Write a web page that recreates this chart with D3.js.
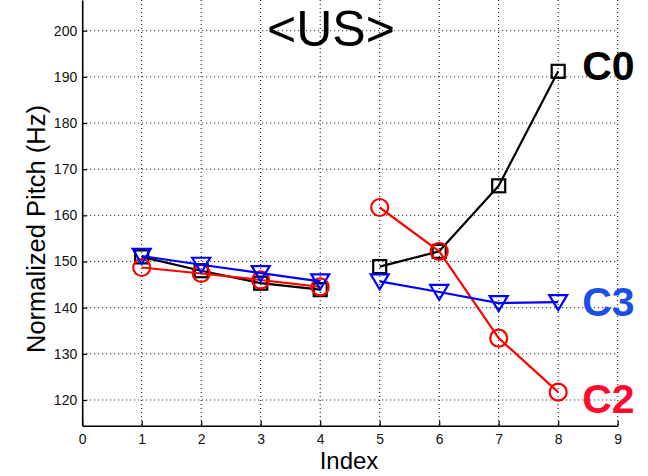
<!DOCTYPE html>
<html>
<head>
<meta charset="utf-8">
<script src="https://cdn.jsdelivr.net/npm/d3@7"></script>
<style>
  html, body { margin: 0; padding: 0; background: #fff; }
  svg { display: block; font-family: "Liberation Sans", Arial, Helvetica, sans-serif; }
</style>
</head>
<body>
<svg id="chart" width="648" height="476"></svg>
<script>
// Index positions along the utterance
const indices = [1, 2, 3, 4, 5, 6, 7, 8];
// Normalized pitch (Hz) per contour class; first four and last four are separate runs
const c0Values = [151.0, 148.0, 145.3, 143.9, 148.9, 152.2, 166.4, 191.2];
const c2Values = [148.7, 147.4, 146.0, 144.5, 161.7, 152.2, 133.4, 121.7];
const c3Values = [151.2, 149.3, 147.5, 145.7, 145.7, 143.4, 141.0, 141.2];
const seriesNames = ["C0", "C2", "C3"];
const xTicks = [0, 1, 2, 3, 4, 5, 6, 7, 8, 9];
const yTicks = [120, 130, 140, 150, 160, 170, 180, 190, 200];
const titleText = "<US>";

const svg = d3.select("#chart");

const x = d3.scaleLinear().domain([0, 9]).range([82.2, 617.7]);
const y = d3.scaleLinear().domain([114.43, 206.65]).range([425.7, 0]);

const gridColor = "#000";

// dotted grid
const grid = svg.append("g");
grid.selectAll("line.vg").data(xTicks.filter(d => d > 0)).join("line")
  .attr("x1", d => x(d)).attr("x2", d => x(d))
  .attr("y1", y.range()[1]).attr("y2", y.range()[0])
  .attr("stroke", gridColor).attr("stroke-width", 1)
  .attr("stroke-dasharray", "1,3");
grid.selectAll("line.hg").data(yTicks).join("line")
  .attr("x1", x(0)).attr("x2", x(9))
  .attr("y1", d => y(d)).attr("y2", d => y(d))
  .attr("stroke", gridColor).attr("stroke-width", 1)
  .attr("stroke-dasharray", "1,3");

// axes with inward ticks
const xAxis = d3.axisBottom(x).tickValues(xTicks).tickSizeInner(-5).tickSizeOuter(0).tickPadding(8);
const yAxis = d3.axisLeft(y).tickValues(yTicks).tickSizeInner(-5).tickSizeOuter(0).tickPadding(5);

const gx = svg.append("g").attr("transform", `translate(0,${y.range()[0]})`).call(xAxis);
const gy = svg.append("g").attr("transform", `translate(${x(0)},0)`).call(yAxis);
[gx, gy].forEach(g => {
  g.select(".domain").attr("stroke", "#000").attr("stroke-width", 1.6);
  g.selectAll(".tick line").attr("stroke", "#000").attr("stroke-width", 1.2);
  g.selectAll(".tick text").attr("fill", "#111").style("font-size", "14px")
    .style("font-family", "'Liberation Sans', Arial, sans-serif");
});

// series
const series = [
  { name: seriesNames[0], values: c0Values, color: "#000000", marker: "square", labelColor: "#000000", dy: -5.6 },
  { name: seriesNames[1], values: c2Values, color: "#ff0000", marker: "circle", labelColor: "#ff0a2e", dy: 5.7 },
  { name: seriesNames[2], values: c3Values, color: "#0000ff", marker: "triangle", labelColor: "#1a4fe6", dy: -0.7 }
];

const line = d3.line()
  .defined(d => d.v != null)
  .x(d => x(d.i)).y(d => y(d.v));

series.forEach(s => {
  const pts = indices.map((i, k) => ({ i, v: s.values[k] }));
  const g = svg.append("g");
  // two separate runs: 1-4 and 5-8
  [pts.slice(0, 4), pts.slice(4)].forEach(run => {
    g.append("path").datum(run)
      .attr("d", line)
      .attr("fill", "none")
      .attr("stroke", s.color)
      .attr("stroke-width", 2.2)
      .attr("stroke-linejoin", "round");
  });
  const mk = g.selectAll("g.mk").data(pts).join("g")
    .attr("transform", d => `translate(${x(d.i)},${y(d.v)})`);
  if (s.marker === "square") {
    mk.append("rect").attr("x", -6.5).attr("y", -6.5).attr("width", 13).attr("height", 13)
      .attr("fill", "none").attr("stroke", s.color).attr("stroke-width", 2.2);
  } else if (s.marker === "circle") {
    mk.append("circle").attr("r", 8.5)
      .attr("fill", "none").attr("stroke", s.color).attr("stroke-width", 2.2);
  } else {
    mk.append("path").attr("d", "M-9,-7L9,-7L0,8Z")
      .attr("fill", "none").attr("stroke", s.color).attr("stroke-width", 2.2)
      .attr("stroke-linejoin", "miter");
  }
  const last = pts[pts.length - 1];
  svg.append("text")
    .attr("x", x(last.i) + 24)
    .attr("y", y(last.v) + s.dy)
    .attr("dy", "0.36em")
    .attr("fill", s.labelColor)
    .style("font-size", "41px")
    .style("font-weight", "bold")
    .text(s.name);
});

// title
svg.append("text")
  .attr("x", 331).attr("y", 46)
  .attr("text-anchor", "middle")
  .attr("fill", "#000")
  .style("font-size", "50px")
  .text(titleText);

// axis labels
svg.append("text")
  .attr("x", 349).attr("y", 469)
  .attr("text-anchor", "middle")
  .attr("fill", "#000")
  .style("font-size", "24px")
  .text("Index");

svg.append("text")
  .attr("transform", "translate(45,229) rotate(-90)")
  .attr("text-anchor", "middle")
  .attr("fill", "#000")
  .style("font-size", "25.5px")
  .text("Normalized Pitch (Hz)");
</script>
</body>
</html>
